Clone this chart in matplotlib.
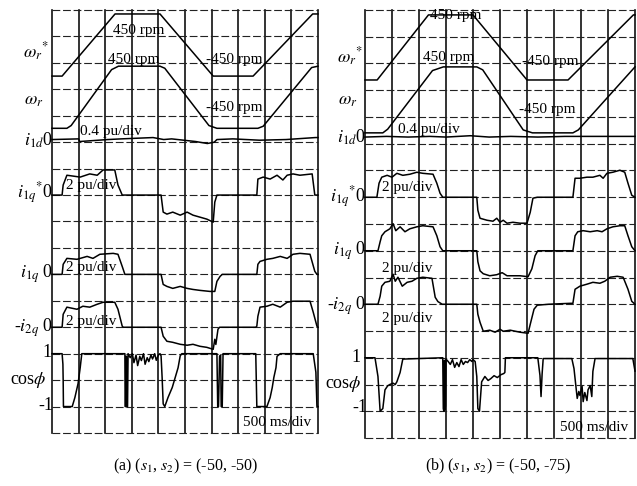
import matplotlib
matplotlib.use("Agg")
import matplotlib.pyplot as plt

plt.rcParams['mathtext.fontset'] = 'stix'
plt.rcParams['font.family'] = ['Liberation Serif', 'DejaVu Serif']

# ---------------- data: panel (a)  (s1, s2) = (-50, -50) ----------------
a_wref_t = [0.0, 0.19, 1.185, 2.03, 3.03, 3.78, 4.90, 5.0]
a_wref_v = [-450, -450, 450, 450, -450, -450, 450, 450]          # rpm
a_wr_t = [0.0, 0.28, 0.36, 1.12, 1.25, 2.03, 2.12, 2.95, 3.10, 3.87, 3.97, 4.88, 5.0]
a_wr_v = [-450, -450, -410, 400, 450, 450, 420, -410, -450, -450, -420, 430, 450]
a_i1d_t = [0, 0.5, 0.52, 1.05, 1.3, 1.9, 2.1, 2.25, 2.7, 2.92, 3.05, 3.1, 3.4, 3.9, 4.4, 4.95, 5.0]
a_i1d_v = [0, 0.01, -0.03, 0.0, 0.01, 0.03, 0.0, 0.01, -0.03, -0.06, -0.04, 0.0, 0.01, -0.01, 0.0, 0.03, 0.03]
a_i1qref_t = [0, 0.19, 0.2, 0.21, 0.28, 0.53, 0.71, 0.85, 0.96, 1.18, 1.24, 1.32,
              2.05, 2.09, 2.16, 2.27, 2.41, 2.54, 2.65, 2.78, 2.91, 3.03, 3.06, 3.1,
              3.85, 3.87, 3.97, 4.1, 4.23, 4.34, 4.42, 4.53, 4.66, 4.89, 4.94, 5.0]
a_i1qref_v = [0, 0, 0.4, 0.76, 1.5, 1.36, 1.6, 1.5, 1.9, 1.9, 0.76, 0,
              0, -1.29, -1.44, -1.29, -1.52, -1.29, -1.52, -1.67, -1.82, -2.05, -0.53, 0,
              0, 1.21, 1.36, 1.21, 1.5, 1.14, 1.5, 1.6, 1.5, 1.6, 0, 0]
a_i1q_t = [0, 0.19, 0.21, 0.28, 0.47, 0.66, 0.77, 0.9, 1.15, 1.24, 1.32, 1.37,
           2.05, 2.09, 2.16, 2.27, 2.41, 2.54, 2.65, 2.78, 2.97, 3.06, 3.1, 3.16, 3.2,
           3.85, 3.87, 3.91, 4.04, 4.15, 4.29, 4.42, 4.53, 4.66, 4.85, 4.94, 4.98, 5.0]
a_i1q_v = [0, 0, 0.76, 1.21, 1.14, 1.36, 1.21, 1.52, 1.59, 1.52, 0.6, 0,
           0, -0.76, -0.91, -1.06, -0.91, -1.06, -1.14, -1.21, -1.29, -1.29, -0.53, -0.15, 0,
           0, 0.76, 0.98, 1.14, 1.21, 1.36, 1.21, 1.52, 1.59, 1.52, 0.23, 0, 0]
a_i2q_t = [0, 0.19, 0.21, 0.28, 0.47, 0.58, 0.71, 0.85, 0.96, 1.18, 1.24, 1.32, 1.34,
           2.05, 2.09, 2.16, 2.27, 2.41, 2.54, 2.65, 2.78, 2.91, 3.03, 3.06, 3.08, 3.12, 3.15,
           3.83, 3.85, 3.87, 3.91, 4.04, 4.15, 4.29, 4.42, 4.53, 4.66, 4.85, 4.91, 4.98, 5.0]
a_i2q_v = [0, 0, 0.98, 1.52, 1.36, 1.59, 1.52, 1.74, 1.89, 1.89, 1.36, 0.08, 0,
           0, -0.68, -1.06, -1.14, -1.29, -1.36, -1.29, -1.44, -1.52, -1.67, -0.91, -1.3, -0.15, 0,
           0, 0.08, 0.83, 1.52, 1.59, 1.74, 1.52, 1.89, 1.97, 1.97, 1.97, 1.14, 0.08, 0]
a_cos_t = [0.00, 0.19, 0.205, 0.21, 0.215, 0.38, 0.43, 0.49, 0.53, 0.56,
           1.37, 1.375, 1.385, 1.39, 1.40, 1.405, 1.42, 1.43,
           1.47, 1.51, 1.54, 1.58, 1.61, 1.65, 1.68, 1.72, 1.75, 1.79, 1.82, 1.86, 1.89, 1.93, 1.96, 2.00, 2.03,
           2.05, 2.07, 2.09, 2.12, 2.18, 2.26, 2.31, 2.37, 2.41, 2.44,
           3.10, 3.115, 3.13, 3.15, 3.17, 3.18, 3.20, 3.215,
           3.83, 3.85, 4.04, 4.10, 4.14, 4.17, 4.21, 4.23, 4.29,
           4.91, 4.96, 4.98, 5.00]
a_cos_v = [1.0, 1.0, 0.6, 0.0, -1.0, -1.0, -0.66, -0.13, 0.47, 1.0,
           1.0, -1.0, -1.0, 0.9, 0.9, -1.0, -1.0, 1.0,
           0.85, 1.0, 0.66, 0.95, 0.55, 0.9, 0.74, 1.0, 0.6, 0.85, 0.7, 0.95, 0.8, 1.0, 0.75, 0.95, 1.0,
           0.92, 0.1, -0.9, -1.0, -0.66, -0.28, 0.06, 0.47, 0.92, 1.0,
           1.0, -1.0, -1.0, 0.9, 0.95, -1.0, -1.0, 1.0,
           1.0, -1.0, -1.0, -0.66, -0.28, 0.1, 0.47, 0.9, 1.0,
           1.0, 0.3, -1.0, -1.0]

# ---------------- data: panel (b)  (s1, s2) = (-50, -75) ----------------
b_wref_t = [0.0, 0.225, 1.175, 2.0, 3.0, 3.76, 4.97, 5.0]
b_wref_v = [-450, -450, 450, 450, -450, -450, 450, 450]
b_wr_t = [0.0, 0.33, 0.42, 1.25, 1.45, 2.07, 2.18, 2.93, 3.10, 3.85, 3.95, 5.0]
b_wr_v = [-450, -450, -400, 400, 450, 450, 410, -410, -450, -450, -410, 450]
b_i1d_t = [0, 0.4, 0.8, 1.2, 1.5, 1.95, 2.3, 2.7, 3.2, 3.7, 4.2, 5.0]
b_i1d_v = [0, 0.01, 0.0, 0.01, 0.0, 0.02, 0.0, 0.01, 0.0, 0.01, 0.01, 0.01]
b_i1qref_t = [0, 0.22, 0.26, 0.31, 0.41, 0.50, 0.59, 0.70, 0.83, 0.96, 1.07, 1.26, 1.33, 1.39, 1.44,
              2.07, 2.09, 2.13, 2.26, 2.37, 2.44, 2.50, 2.56, 2.63, 2.74, 2.87, 3.00, 3.06, 3.11, 3.19,
              3.85, 3.89, 3.98, 4.11, 4.22, 4.35, 4.41, 4.48, 4.59, 4.72, 4.81, 4.87, 4.94, 5.0]
b_i1qref_v = [0, 0, 1.05, 1.5, 1.64, 1.5, 1.79, 1.64, 1.72, 1.87, 1.79, 1.72, 1.05, 0.3, 0,
              0, -0.97, -1.57, -1.72, -1.79, -1.57, -1.87, -1.72, -1.94, -1.87, -1.94, -1.94, -1.12, -0.07, 0,
              0, 1.42, 1.42, 1.5, 1.5, 1.64, 1.42, 1.79, 1.87, 2.02, 1.87, 1.05, 0.15, 0]
b_i1q_t = [0, 0.24, 0.28, 0.31, 0.37, 0.46, 0.52, 0.57, 0.65, 0.74, 0.83, 0.96, 1.07, 1.26, 1.33, 1.39, 1.44,
           2.07, 2.09, 2.13, 2.19, 2.31, 2.44, 2.54, 2.63, 2.74, 2.87, 3.02, 3.09, 3.15, 3.20,
           3.85, 3.89, 3.94, 4.04, 4.17, 4.30, 4.39, 4.48, 4.59, 4.72, 4.81, 4.87, 4.94, 5.0]
b_i1q_v = [0, 0, 0.67, 1.12, 1.42, 1.64, 2.02, 1.5, 1.79, 1.42, 1.64, 1.79, 1.87, 1.79, 1.12, 0.3, 0,
           0, -0.82, -1.5, -1.72, -1.87, -1.79, -1.64, -1.87, -1.87, -1.87, -1.94, -1.35, -0.37, 0,
           0, 1.12, 1.42, 1.5, 1.42, 1.5, 1.42, 1.64, 1.79, 1.87, 1.87, 1.12, 0.3, 0]
b_i2q_t = [0, 0.24, 0.28, 0.31, 0.37, 0.46, 0.52, 0.56, 0.61, 0.69, 0.78, 0.87, 0.96, 1.07, 1.24, 1.30, 1.35, 1.43,
           2.07, 2.09, 2.13, 2.19, 2.31, 2.41, 2.50, 2.56, 2.69, 2.87, 3.02, 3.06, 3.13, 3.19, 3.40, 3.80,
           3.85, 3.89, 3.98, 4.11, 4.22, 4.35, 4.44, 4.54, 4.67, 4.78, 4.87, 4.94, 5.0]
b_i2q_v = [0, 0, 0.6, 1.35, 1.64, 1.72, 2.24, 1.72, 2.02, 1.35, 1.64, 1.72, 1.94, 2.02, 1.94, 0.52, 0.2, 0,
           0, -0.75, -1.35, -2.02, -1.94, -2.09, -1.87, -2.02, -1.94, -2.09, -2.17, -1.5, -0.37, -0.07, 0.0, 0.07,
           0.07, 1.12, 1.35, 1.5, 1.64, 1.57, 1.72, 2.02, 2.09, 2.02, 1.12, 0.22, 0]
b_cos_t = [0.00, 0.185, 0.24, 0.28, 0.33, 0.37, 0.42, 0.46, 0.52, 0.56, 0.59, 0.65, 0.70,
           1.44, 1.45, 1.46, 1.47, 1.475, 1.48, 1.49, 1.50,
           1.54, 1.58, 1.62, 1.66, 1.70, 1.74, 1.78, 1.82, 1.86, 1.90, 1.94, 1.98, 2.00,
           2.04, 2.07, 2.09, 2.12, 2.16, 2.22, 2.28, 2.33, 2.39, 2.45, 2.52, 2.57, 2.59, 2.60,
           3.20, 3.24, 3.26, 3.28, 3.30,
           3.83, 3.87, 3.91, 3.93, 3.96, 3.98, 4.02, 4.04, 4.07, 4.11, 4.13, 4.17, 4.20, 4.22, 4.26,
           4.96, 5.00]
b_cos_v = [1.0, 1.0, 0.3, -1.0, -0.9, -0.2, -0.05, 0.0, 0.05, 0.0, 0.1, 0.45, 0.95,
           1.0, -0.9, -1.0, 0.9, 0.9, -0.95, -0.8, 0.95,
           0.86, 0.75, 0.93, 0.64, 0.82, 0.67, 0.93, 0.75, 0.86, 0.82, 0.93, 0.86, 0.93,
           0.86, 0.3, -0.9, -1.0, 0.1, 0.3, 0.15, 0.22, 0.33, 0.26, 0.37, 0.41, 0.45, 1.0,
           1.0, 0.34, -0.45, 0.4, 0.97,
           0.97, 0.6, -0.15, -0.52, -0.26, -0.41, -0.07, -0.64, -0.3, -0.6, -0.2, -0.04, -0.45, 0.49, 0.97,
           0.97, 0.5]

# ---------------- layout (pixels) ----------------
W, H = 637, 486
fig = plt.figure(figsize=(W / 100, H / 100), dpi=100)
fig.patch.set_facecolor('white')


def px_axes(x0, y0, x1, y1):
    return fig.add_axes([x0 / W, 1 - y1 / H, (x1 - x0) / W, (y1 - y0) / H])


def ftext(x, y, s, size=11, ha='left', va='center', **kw):
    fig.text(x / W, 1 - y / H, s, fontsize=size, ha=ha, va=va, color='black', **kw)


def draw_panel(ax, traces):
    ax.set_xlim(0, 5)
    ax.set_ylim(0, 16)
    ax.axis('off')
    for k in range(11):
        x = 0.5 * k
        ax.plot([x, x], [0, 16], color='#111111', lw=1.2, clip_on=False, zorder=1)
    for k in range(17):
        ax.plot([0, 5], [k, k], color='#222222', lw=0.8, ls=(0, (7, 2.5)),
                clip_on=False, zorder=1)
    for t, v, zero, scale in traces:
        ax.plot(t, [zero + val / scale for val in v], color='black', lw=1.1,
                clip_on=False, zorder=3)


ax_a = px_axes(52, 10, 318, 433)
draw_panel(ax_a, [
    (a_wref_t, a_wref_v, 14.675, 383.0),
    (a_wr_t, a_wr_v, 12.70, 383.0),
    (a_i1d_t, a_i1d_v, 11.10, 0.4),
    (a_i1qref_t, a_i1qref_v, 9.0, 2.0),
    (a_i1q_t, a_i1q_v, 6.0, 2.0),
    (a_i2q_t, a_i2q_v, 4.0, 2.0),
    (a_cos_t, a_cos_v, 2.0, 1.0),
])

ax_b = px_axes(365, 10, 635, 438)
draw_panel(ax_b, [
    (b_wref_t, b_wref_v, 14.60, 370.0),
    (b_wr_t, b_wr_v, 12.64, 365.0),
    (b_i1d_t, b_i1d_v, 11.25, 0.4),
    (b_i1qref_t, b_i1qref_v, 9.0, 2.0),
    (b_i1q_t, b_i1q_v, 7.0, 2.0),
    (b_i2q_t, b_i2q_v, 5.0, 2.0),
    (b_cos_t, b_cos_v, 2.0, 1.0),
])

# ---------------- channel labels ----------------
LS = 13
for (xr, y, s) in [
        (49, 52, r'$\omega_r{}^{*}$'), (44, 100, r'$\omega_r$'),
        (53, 140, r'$i_{1d}$0'), (53, 193, r'$i_{1q}{}^{*}$0'),
        (53, 274, r'$i_{1q}$ 0'), (53, 328, r'-$i_{2q}$ 0'),
        (52, 352, '1'), (47, 380, r'cos$\phi$'), (53, 406, '-1'),
        (363, 57, r'$\omega_r{}^{*}$'), (358, 100, r'$\omega_r$'),
        (366, 137, r'$i_{1d}$0'), (366, 197, r'$i_{1q}{}^{*}$0'),
        (366, 251, r'$i_{1q}$ 0'), (366, 306, r'-$i_{2q}$ 0'),
        (361, 357, '1'), (362, 384, r'cos$\phi$'), (367, 407, '-1')]:
    ftext(xr, y, s, size=LS, ha='right')

# ---------------- in-screen annotations ----------------
IS = 11
for (x, y, s) in [
        (113, 30, '450 rpm'), (108, 59, '450 rpm'), (206, 60, '-450 rpm'),
        (206, 107, '-450 rpm'), (80, 131, '0.4 pu/div'),
        (66, 185, '2 pu/div'), (66, 267, '2 pu/div'), (66, 321, '2 pu/div'),
        (243, 422, '500 ms/div'),
        (430, 15, '450 rpm'), (423, 58, '450 rpm'), (522, 62, '-450 rpm'),
        (519, 110, '-450 rpm'), (398, 130, '0.4 pu/div'),
        (382, 187, '2 pu/div'), (382, 268, '2 pu/div'), (382, 318, '2 pu/div'),
        (560, 427, '500 ms/div')]:
    ftext(x, y, s, size=IS)

# ---------------- captions ----------------
ftext(186, 466, r'(a) ($s_1$, $s_2$) = (-50, -50)', size=11.5, ha='center')
ftext(498, 466, r'(b) ($s_1$, $s_2$) = (-50, -75)', size=11.5, ha='center')

fig.savefig('out.png', dpi=100, facecolor='white')
